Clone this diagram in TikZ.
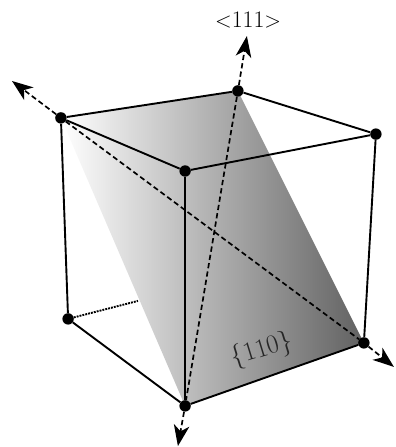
\documentclass[tikz,border=0pt]{standalone}
\usepackage{tikz}
\usetikzlibrary{arrows.meta,backgrounds}
\begin{document}
\begin{tikzpicture}[
    corner/.style={circle, fill=black, minimum size=.38cm, inner sep=0pt},
    edge/.style={line width=1.8pt, color=black},
    hidden/.style={line width=1.8pt, densely dotted, color=black},
    axis/.style={line width=1.6pt, dash pattern=on 5pt off 3pt, color=black},
    axistip/.style={axis, -{Stealth[length=.7cm, width=.52cm, inset=.2cm]}},
    planelabel/.style={font=\fontsize{25}{28}\selectfont, text=black!85}
  ]
    \useasboundingbox (0,0) rectangle (13.167,14.9);

    \node[corner] (topleft) at (2.03,10.97) {};
    \node[corner] (topback) at (7.93,11.87) {};
    \node[corner] (topright) at (12.53,10.43) {};
    \node[corner] (topfront) at (6.17,9.2) {};
    \node[corner] (botback) at (2.27,4.27) {};
    \node[corner] (botfront) at (6.17,1.37) {};
    \node[corner] (botright) at (12.13,3.47) {};
    \coordinate (tipup) at (8.23,13.7);
    \coordinate (tipleft) at (.4,12.2);
    \coordinate (tipdown) at (5.93,.03);
    \coordinate (tipright) at (13.13,2.67);
    \coordinate (hiddenend) at (4.6,4.87);

    % the plane
    \begin{pgfonlayer}{background}
      \shade[left color=white, right color=black!62]
        (topleft.center) -- (topback.center) -- (botright.center)
        -- (botfront.center) -- cycle;
    \end{pgfonlayer}

    \draw[edge] (topleft) -- (topback) -- (topright) -- (topfront) -- (topleft);
    \draw[edge] (topleft) -- (botback) -- (botfront) -- (botright) -- (topright);
    \draw[edge] (topfront) -- (botfront);
    \draw[hidden] (botback) -- (hiddenend);

    % diagonals
    \draw[axis] (topleft) -- (botright);
    \draw[axis] (topback) -- (botfront);
    \draw[axistip] (topback) -- (tipup);
    \draw[axistip] (topleft) -- (tipleft);
    \draw[axistip] (botfront) -- (tipdown);
    \draw[axistip] (botright) -- (tipright);

    \node[font=\fontsize{22.5}{26}\selectfont, inner sep=0pt] (dirlabel) at (8.27,14.25) {$<$111$>$};
    \node[planelabel, rotate=17, inner sep=0pt] (planetext) at (8.73,3.23) {\{110\}};
  \end{tikzpicture}
\end{document}
